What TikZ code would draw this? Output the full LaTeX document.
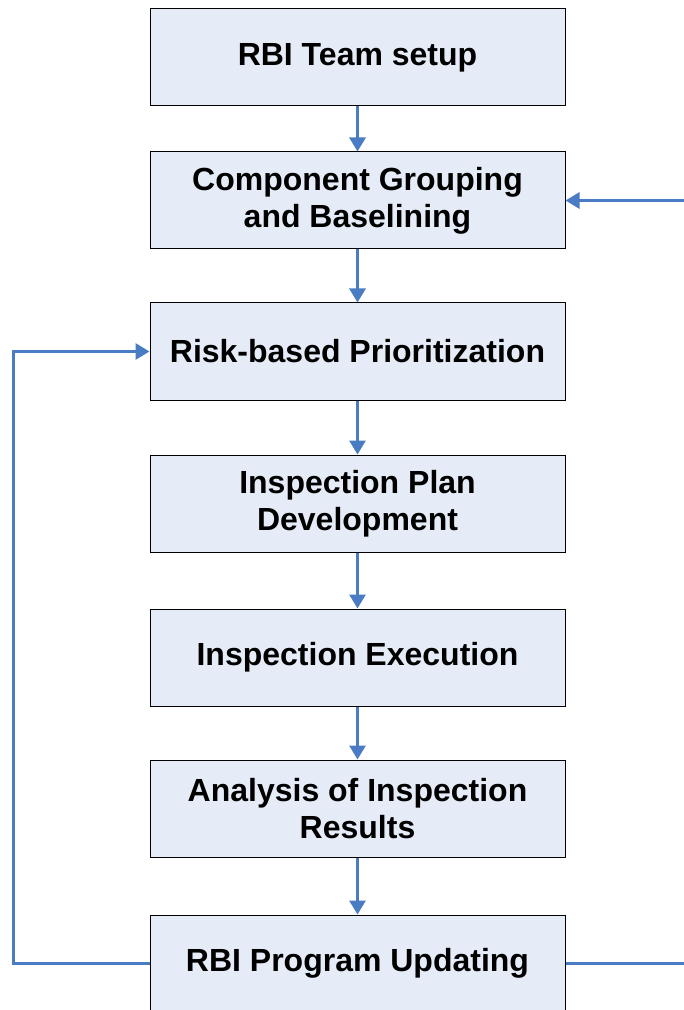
\documentclass[tikz,border=0pt]{standalone}
\usepackage{fontspec}
\setmainfont{Liberation Sans}
\usetikzlibrary{arrows.meta}
\definecolor{boxfill}{HTML}{E6ECF7}
\definecolor{flowblue}{HTML}{4A7CC4}
\tikzset{
  stagebox/.style={draw=black, line width=0.5pt, fill=boxfill,
    minimum width=207.5pt, minimum height=48.5pt, align=center,
    font=\fontsize{16}{18.5}\selectfont\bfseries},
  flow/.style={draw=flowblue, line width=1.5pt,
    -{Triangle[length=7pt,width=8pt]}}
}
\begin{document}
\begin{tikzpicture}[x=0.5pt, y=-0.5pt]
  \useasboundingbox (0,0) rectangle (684,1010);
  \clip (0,0) rectangle (684,1010);
  \draw
    (357.5,57.5) node[stagebox] (team){RBI Team setup}
    (357.5,200.5) node[stagebox] (group){Component Grouping\\and Baselining}
    (357.5,351.5) node[stagebox] (prio){Risk-based Prioritization}
    (357.5,503.5) node[stagebox] (plan){Inspection Plan\\Development}
    (357.5,657.5) node[stagebox] (exec){Inspection Execution}
    (357.5,808.5) node[stagebox] (anal){Analysis of Inspection\\Results}
    (357.5,963.5) node[stagebox] (upd){RBI Program Updating};
  \coordinate (leftloop) at (13,0);
  \coordinate (rightloop) at (720,0);
  \begin{scope}[flow]
    \draw (team) to (group);
    \draw (group) to (prio);
    \draw (prio) to (plan);
    \draw (plan) to (exec);
    \draw (exec) to (anal);
    \draw (anal) to (upd);
    \draw (upd.west) -- (upd.west -| leftloop) |- (prio.west);
    \draw (upd.east) -- (upd.east -| rightloop) |- (group.east);
  \end{scope}
\end{tikzpicture}
\end{document}
